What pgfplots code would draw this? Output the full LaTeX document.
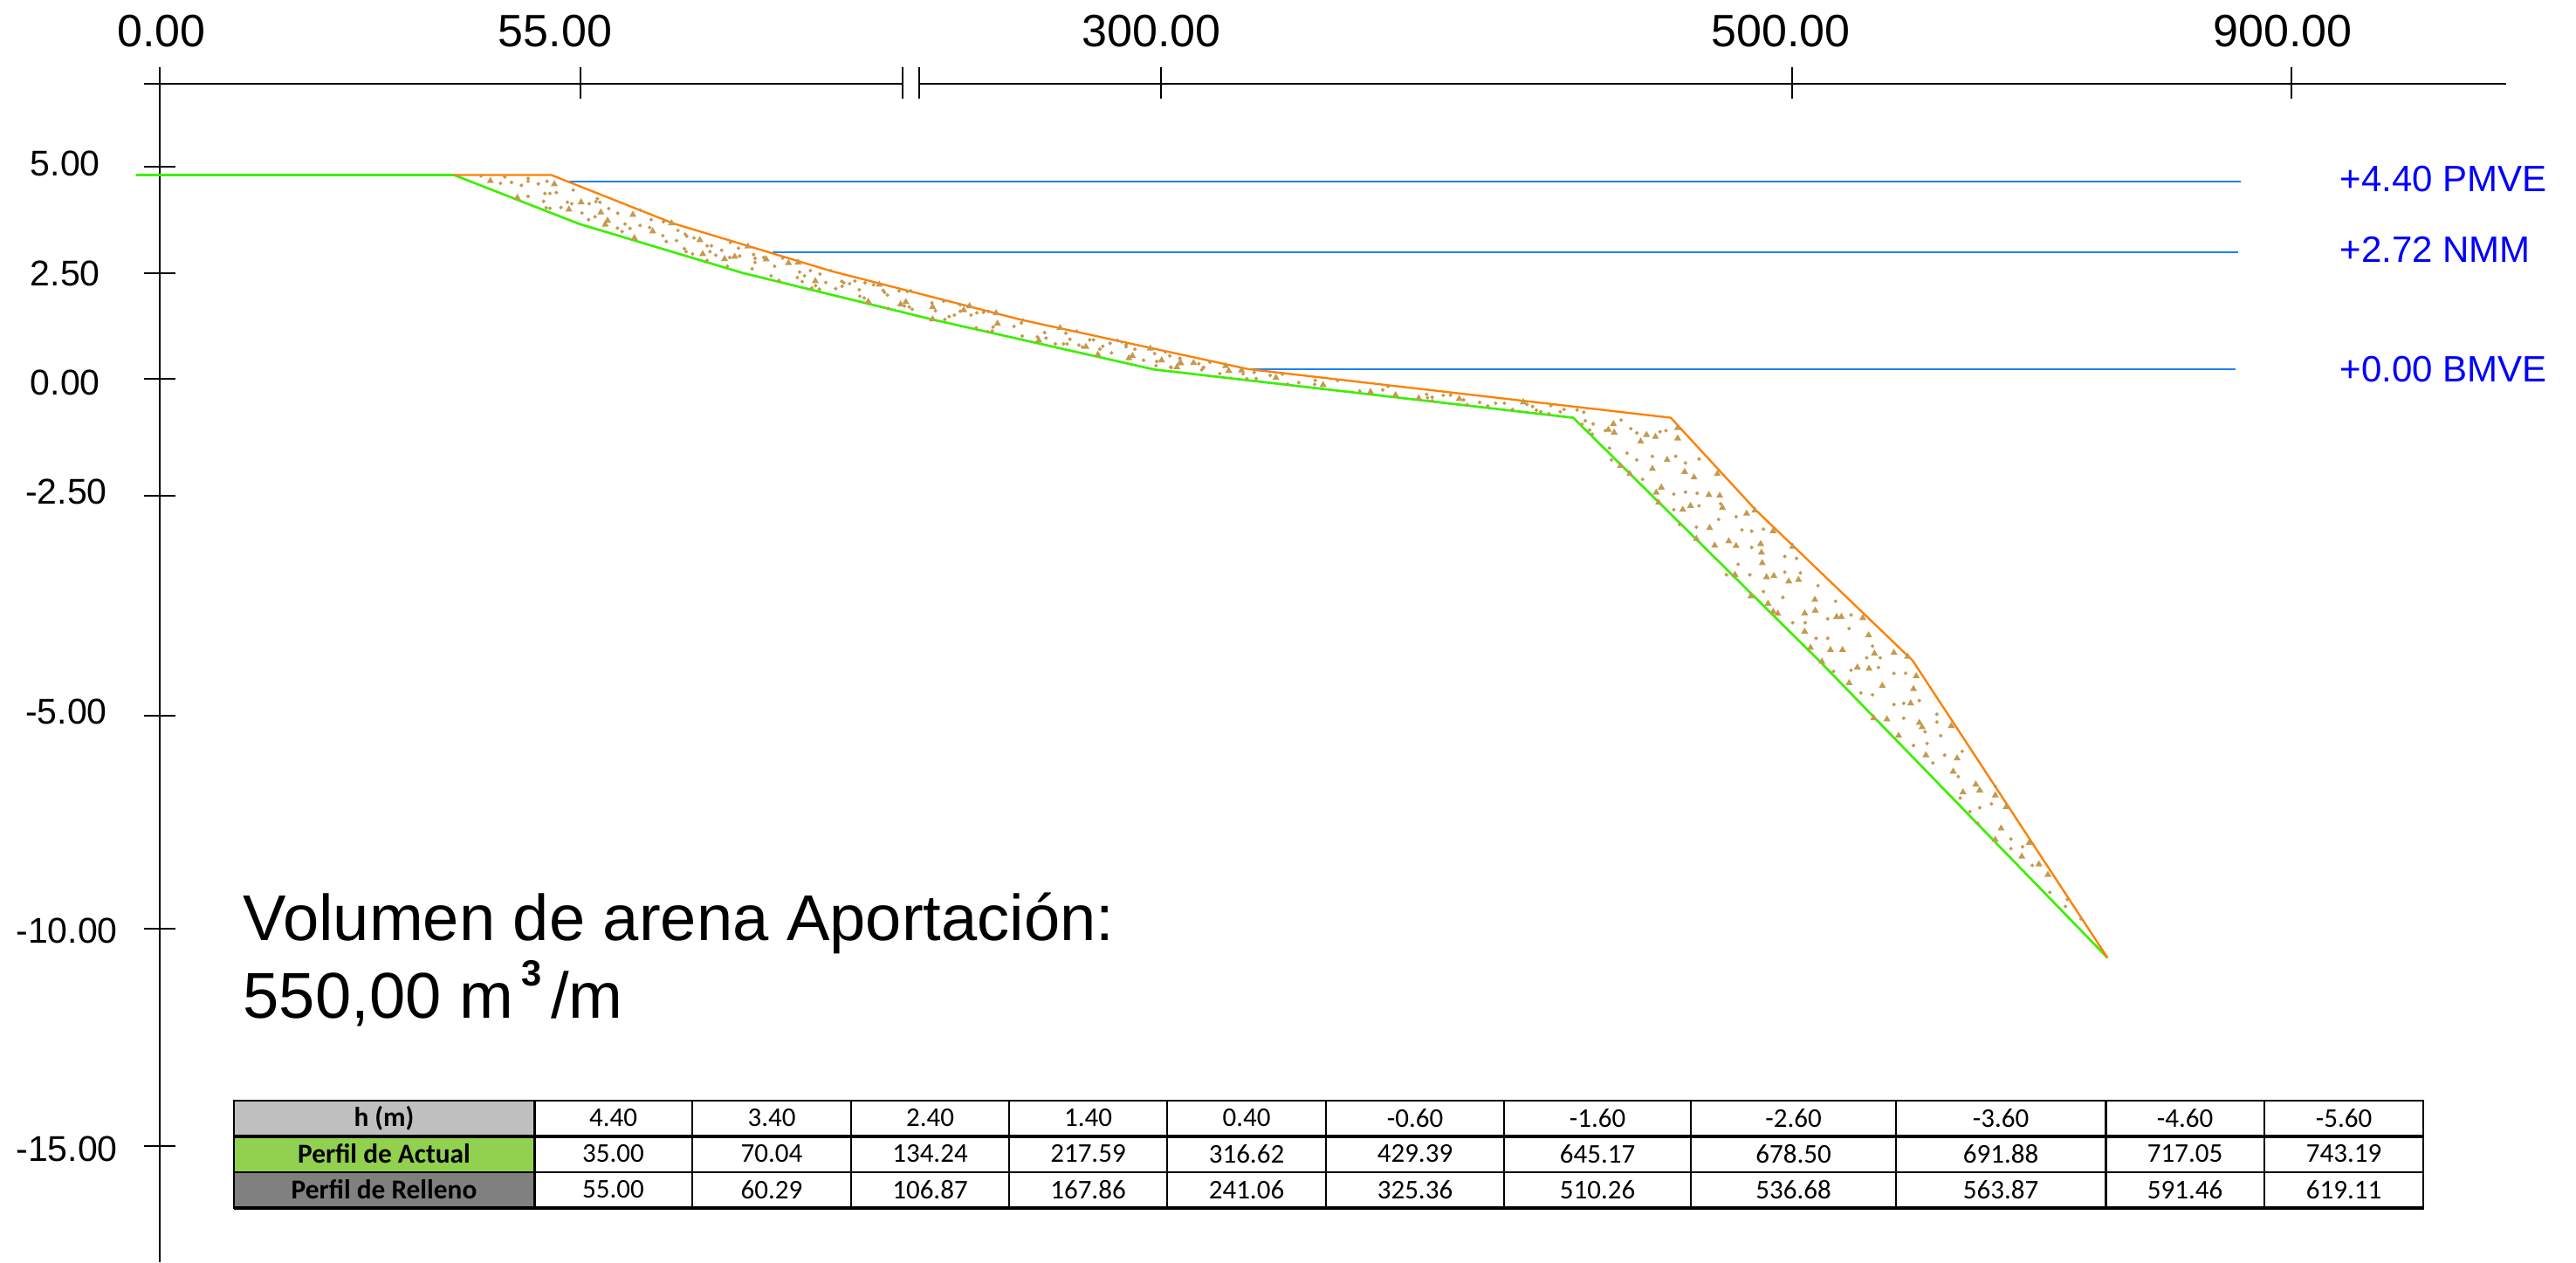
\documentclass[border=0pt]{standalone}
\usepackage{fontspec}
\setmainfont{Liberation Sans}
\newfontfamily\tablefont{Carlito}
\usepackage{pgfplots}
\pgfplotsset{compat=1.18}
\usepackage{pgfplotstable}

\definecolor{sand}{HTML}{C49A50}
\definecolor{terrain}{HTML}{3CF000}
\definecolor{fillline}{HTML}{FF8000}
\definecolor{tide}{HTML}{1E82F0}
\definecolor{rowh}{HTML}{BFBFBF}
\definecolor{rowa}{HTML}{92D050}
\definecolor{rowr}{HTML}{808080}

% the section is not to scale, so everything is in drawing units (1 unit = 0.3pt)
\pgfplotstableread{
x y
1842.4 492.4
1848.2 485.7
1849.1 495.5
1879.5 505.8
1886.2 498.2
1896.4 500.4
1909.8 526.8
1921.9 502.2
1921.9 490.2
1892.9 537.1
1856.3 533.9
1867.0 542.9
1903.1 558.5
1897.3 564.3
1929.9 540.6
1940.6 546.9
1967.4 542.9
1957.6 567.0
1970.1 567.9
1936.6 579.5
1927.7 583.9
1900.0 575.9
1973.2 581.7
2000.9 588.4
2010.3 584.8
1958.5 604.9
1943.3 617.4
1964.3 625.0
1980.4 620.1
1988.8 625.4
2017.0 623.2
2017.9 633.0
2018.8 645.1
2031.3 608.5
2053.6 626.3
1987.5 658.5
2023.7 661.2
2032.1 659.8
2005.8 683.0
2025.4 691.5
2031.3 700.9
2036.6 703.1
2049.1 666.1
2060.3 664.3
2079.0 687.1
2079.5 699.6
2067.4 702.7
2067.4 723.7
2074.1 742.0
2104.0 706.7
2109.4 706.7
2133.9 708.0
2140.6 727.7
2147.3 748.7
2087.1 758.0
2096.9 744.6
2110.7 744.6
2118.3 782.6
2127.7 764.7
2141.1 766.1
2156.3 785.7
2169.6 747.8
2185.3 752.2
2195.1 774.6
2192.0 789.3
2188.8 805.8
2198.7 828.1
2201.8 833.0
2146.4 822.8
2161.6 824.1
2175.0 842.9
2206.3 865.2
2235.3 831.7
2242.0 868.8
2237.5 883.9
2248.7 907.6
2263.4 898.7
2267.9 905.4
2285.7 911.2
2298.2 924.6
2285.7 962.1
2292.4 949.1
2324.6 965.6
2316.1 981.3
2335.7 990.2
2346.0 1002.2
561.7 207.3
635.0 211.0
592.7 226.7
665.7 231.7
651.7 240.0
688.3 243.3
696.0 252.7
693.3 257.3
725.0 246.0
726.7 272.7
747.7 265.0
769.3 255.7
801.7 275.0
805.0 291.0
830.0 296.7
841.7 294.0
856.7 282.3
877.7 297.0
903.3 301.3
914.3 300.7
934.0 322.0
1007.3 326.0
994.7 345.7
1031.7 348.7
1037.7 346.0
1068.3 351.7
1104.0 355.3
1110.7 350.7
1141.0 358.7
1142.7 370.7
1190.0 390.0
1244.0 397.3
1257.7 406.3
1297.3 407.7
1293.3 410.3
1330.7 412.7
1351.7 416.0
1367.3 415.7
1317.7 399.3
1214.3 375.7
1068.3 365.7
1352.7 416.0
1348.3 420.7
1404.0 419.3
1407.7 425.0
1422.3 424.3
1461.7 432.7
1515.7 441.0
1570.0 449.0
1598.7 452.7
1625.3 456.3
1671.7 457.0
1745.0 460.7
}\sandbig

\pgfplotstableread{
x y
551.0 201.7
578.3 202.7
573.3 210.0
586.0 209.0
597.3 212.3
605.0 204.3
605.0 207.7
616.7 210.7
626.7 207.7
624.3 221.7
630.0 221.7
637.3 220.7
656.7 217.7
605.0 225.0
622.7 230.7
625.7 238.0
630.0 238.7
642.7 237.7
650.0 231.7
655.0 233.3
675.0 233.3
682.7 231.0
684.3 227.7
687.3 231.7
666.7 244.0
681.7 248.3
674.3 251.7
697.3 239.0
707.7 244.3
733.3 240.7
746.0 251.7
760.0 254.0
707.3 261.3
712.7 265.3
716.0 256.7
721.7 261.7
733.3 258.3
744.3 260.7
759.3 270.0
763.3 276.7
775.0 275.7
776.7 264.0
785.0 268.3
786.7 270.7
795.0 272.7
810.0 281.7
815.0 281.7
826.7 286.7
784.0 285.0
786.0 288.3
793.3 291.0
813.3 288.3
820.0 292.3
836.7 277.7
846.0 284.3
847.3 293.3
836.0 295.0
863.3 291.7
865.0 296.0
865.0 300.7
861.7 308.0
875.0 295.0
887.3 305.0
883.3 316.0
833.3 305.0
810.0 298.3
892.3 321.3
896.7 295.7
916.0 311.7
921.7 316.0
928.3 310.0
939.3 314.0
913.3 318.0
919.0 322.7
934.3 327.3
930.0 330.0
938.7 331.3
946.0 323.7
951.7 310.0
957.3 330.7
964.3 322.3
966.7 324.0
964.7 328.0
973.3 325.0
979.3 322.0
991.0 324.0
1000.7 326.3
984.3 332.0
985.0 339.3
990.0 341.3
1011.7 332.7
1013.3 335.0
1016.7 338.0
1030.0 333.3
1039.3 334.0
1043.3 333.3
1036.0 350.7
1041.7 351.7
1045.0 354.3
1017.3 353.3
1081.0 345.0
1067.7 347.0
1071.7 356.0
1082.3 366.0
1087.3 362.7
1093.3 361.0
1100.0 349.3
1100.0 356.7
1112.3 361.0
1119.0 358.3
1126.7 357.7
1132.3 356.7
1137.7 374.7
1161.7 374.0
1171.7 366.7
1170.0 370.0
1118.3 375.7
1131.7 380.0
1136.7 379.3
1171.0 385.0
1196.7 381.0
1198.3 387.3
1188.3 386.0
1209.0 394.0
1218.3 394.0
1222.3 394.0
1221.0 381.7
1225.7 388.7
1233.3 379.3
1248.3 389.3
1252.7 389.3
1236.0 395.3
1240.0 397.7
1260.0 400.0
1263.3 396.7
1271.7 393.3
1273.3 404.3
1280.0 390.0
1290.0 395.0
1290.0 397.3
1285.0 391.7
1300.0 400.0
1322.7 405.0
1335.0 403.3
1340.0 407.7
1310.0 412.7
1325.0 414.0
1324.3 419.0
1341.7 421.0
1351.7 410.7
1373.3 416.7
1376.7 423.7
1379.0 421.0
1351.7 410.7
1386.0 415.0
1341.0 420.7
1378.3 421.0
1397.3 428.0
1424.0 428.3
1436.7 426.7
1428.3 433.7
1439.0 433.7
1455.0 430.0
1469.0 428.7
1475.0 440.0
1487.7 438.3
1506.7 435.7
1506.0 440.3
1532.3 436.0
1557.7 448.0
1584.0 446.7
1590.0 442.7
1634.3 451.7
1635.3 455.7
1640.7 455.0
1640.7 459.0
1653.3 453.0
1661.7 452.7
1676.7 458.0
1680.7 463.7
1695.0 461.0
1704.3 465.0
1713.3 462.0
1723.3 462.0
1732.7 469.0
1749.3 463.3
1755.7 465.7
1760.0 470.0
1765.0 471.7
1774.3 474.0
1776.7 464.7
1787.3 471.7
1791.7 469.0
1806.7 469.7
1814.3 472.3
1816.0 482.0
1812.3 486.0
1825.0 485.7
1821.0 492.7
1824.0 497.3
1839.0 493.3
1857.1 481.3
1868.3 491.1
1875.0 496.0
1908.5 493.3
1901.8 494.6
1843.8 513.4
1863.8 519.2
1875.0 526.8
1892.9 522.8
1919.6 522.8
1930.8 530.4
1946.4 525.9
1846.0 526.8
1881.7 549.1
1917.4 566.1
1930.8 563.8
1944.2 565.2
1971.0 577.2
1946.4 579.5
1917.4 583.9
1988.8 592.0
2006.7 608.5
1995.5 607.1
2020.1 606.3
1968.8 595.1
1943.3 604.0
1924.1 600.9
1991.1 646.4
2006.7 627.2
2044.6 637.5
2058.0 639.7
1977.7 658.5
2004.5 658.5
2044.6 655.4
2062.5 656.3
2082.6 671.0
2102.7 688.8
2120.5 704.5
2020.1 677.7
2042.4 684.4
2053.6 713.4
2067.9 713.4
2093.8 708.9
2118.3 720.1
2080.4 731.3
2093.8 731.3
2145.1 740.2
2138.4 753.6
2154.0 753.6
2100.4 769.2
2120.5 767.9
2151.8 764.7
2169.6 771.4
2183.0 771.4
2145.1 796.0
2131.7 793.8
2169.6 807.1
2180.8 805.8
2198.7 802.7
2180.8 822.8
2218.8 818.3
2218.8 827.2
2192.0 854.0
2207.6 851.8
2214.3 874.1
2227.7 865.2
2247.8 860.7
2243.3 889.7
2256.7 929.9
2267.9 925.4
2281.3 921.0
2265.6 943.3
2303.6 961.2
2303.6 972.3
2317.0 970.1
2328.1 991.5
2368.3 1030.4
2348.2 1022.3
2366.1 1038.4
2383.9 1052.7
2245.5 914.3
2223.2 842.9
2205.3 838.4
2285.7 900.9
}\sandsmall

% shifted tick labels: they do not sit centred on their ticks in the reference
\newcommand\xl[2]{\makebox[0pt]{\hspace*{#1}#2}}
\newcommand\yl[3]{\smash{\raisebox{#2}{#3}}\hspace*{#1}}

\begin{document}
\begin{tikzpicture}
\useasboundingbox (-54.9pt,0pt) rectangle (830.4pt,433.8pt);
\begin{axis}[
    x=0.3pt, y=0.3pt,
    y dir=reverse,
    xmin=183, xmax=2871,
    ymin=95, ymax=1446,
    clip=false,
    axis x line=top,
    axis y line=left,
    x axis line style={draw=none,-},
    y axis line style={draw=none,-},
    tick align=center,
    major tick length=11pt,
    xtick={183,665,1034,1053,1330,2053,2625},
    xticklabels={\xl{1.2pt}{0.00},\xl{-17.4pt}{55.00},{},{},\xl{-6.6pt}{300.00},\xl{-7.8pt}{500.00},\xl{-6pt}{900.00}},
    ytick={191,313,434,568,820,1064,1313},
    yticklabels={\yl{6pt}{1.3pt}{5.00},\yl{6pt}{0pt}{2.50},\yl{6pt}{-1.2pt}{0.00},\yl{3.6pt}{1.5pt}{-2.50},\yl{3.6pt}{1.5pt}{-5.00},\yl{0pt}{-0.6pt}{-10.00},\yl{0pt}{-0.8pt}{-15.00}},
    x tick style={black,line width=0.35pt},
    y tick style={black,line width=0.55pt},
    xticklabel style={font=\fontsize{15.6}{17}\selectfont,inner sep=0pt,anchor=south},
    yticklabel style={font=\fontsize{12.3}{13}\selectfont,inner sep=0pt,anchor=east,text height=8.8pt,text depth=0pt},
    xticklabel shift=6.7pt,
    yticklabel shift=8.8pt,
]
% axis lines, with the break in the horizontal one
\addplot[black,line width=0.7pt,forget plot] coordinates {(165,95.7) (1034,95.7)};
\addplot[black,line width=0.7pt,forget plot] coordinates {(1053,95.7) (2871,95.7)};
\addplot[black,line width=0.55pt,forget plot] coordinates {(183,77) (183,1446)};
% tide levels
\addplot[tide,line width=0.6pt] coordinates {(649,208) (2567,208)};
\addplot[tide,line width=0.6pt] coordinates {(885,289.3) (2564,289.3)};
\addplot[tide,line width=0.6pt] coordinates {(1430,423.3) (2561,423.3)};
% sand
\addplot[only marks,mark=triangle*,mark size=1pt,sand,mark options={draw=none,fill=sand}] table[x=x,y=y] {\sandbig};
\addplot[only marks,mark=*,mark size=0.4pt,sand,mark options={draw=none,fill=sand}] table[x=x,y=y] {\sandsmall};
% profiles
\addplot[terrain,line width=0.8pt] coordinates {(155.7,200.5) (520,200.5) (663.5,256.5) (850,312.5) (1068,366) (1322,423.3) (1802.3,478.6) (2085,758) (2414.3,1097.3)};
\addplot[fillline,line width=0.7pt] coordinates {(520,200.5) (631.6,200.5) (771.5,256) (952,310.5) (1170.8,366.6) (1430,422.9) (1914,478.6) (2011,584) (2191,756.7) (2414.3,1097.3)};
\end{axis}

\begin{scope}[x=0.3pt,y=-0.3pt,shift={(-54.9pt,433.8pt)}]
\node[anchor=west,inner sep=0pt,text=blue,font=\fontsize{12.6}{14}\selectfont] at (2680,205) {+4.40 PMVE};
\node[anchor=west,inner sep=0pt,text=blue,font=\fontsize{12.6}{14}\selectfont] at (2680,286) {+2.72 NMM};
\node[anchor=west,inner sep=0pt,text=blue,font=\fontsize{12.6}{14}\selectfont] at (2680,423) {+0.00 BMVE};

\node[anchor=base west,inner sep=0pt,font=\fontsize{22.25}{24}\selectfont] at (278,1077.7) {Volumen de arena Aportación:};
\node[anchor=base west,inner sep=0pt,font=\fontsize{22.25}{24}\selectfont] at (278,1166.7) {550,00 m\hspace{3pt}\raisebox{11.3pt}{\fontsize{12.5}{14}\selectfont\bfseries 3}\hspace{3pt}/m};

% table under the section
\fill[rowh] (268,1260.7) rectangle (612,1302);
\fill[rowa] (268,1302) rectangle (612,1343);
\fill[rowr] (268,1343) rectangle (612,1384);
\foreach \lx/\lw in {268/2,612/3,793/2.5,975/2,1156/1.5,1337/1.5,1519/2.5,1723/1.5,1937/2,2172/1.5,2412/3,2594/1.5,2776/2}
  \draw[black,line width=0.3pt*\lw] (\lx,1260) -- (\lx,1385);
\foreach \ly/\lw in {1260.7/2,1302/4,1343/2.5,1384/4.5}
  \draw[black,line width=0.3pt*\lw] (268,\ly) -- (2777,\ly);
\foreach \cx/\h/\a/\r in {
  702.5/4.40/35.00/55.00, 884/3.40/70.04/60.29, 1065.5/2.40/134.24/106.87,
  1246.5/1.40/217.59/167.86, 1428/0.40/316.62/241.06, 1621/-0.60/429.39/325.36,
  1830/-1.60/645.17/510.26, 2054.5/-2.60/678.50/536.68, 2292/-3.60/691.88/563.87,
  2503/-4.60/717.05/591.46, 2685/-5.60/743.19/619.11}{
  \node[font=\tablefont\fontsize{9.3}{11}\selectfont] at (\cx,1281) {\h};
  \node[font=\tablefont\fontsize{9.3}{11}\selectfont] at (\cx,1322) {\a};
  \node[font=\tablefont\fontsize{9.3}{11}\selectfont] at (\cx,1363) {\r};
}
\node[font=\tablefont\bfseries\fontsize{9.4}{11}\selectfont] at (440,1281) {h (m)};
\node[font=\tablefont\bfseries\fontsize{9.4}{11}\selectfont] at (440,1322) {Perfil de Actual};
\node[font=\tablefont\bfseries\fontsize{9.4}{11}\selectfont] at (440,1363) {Perfil de Relleno};
\end{scope}
\end{tikzpicture}
\end{document}
